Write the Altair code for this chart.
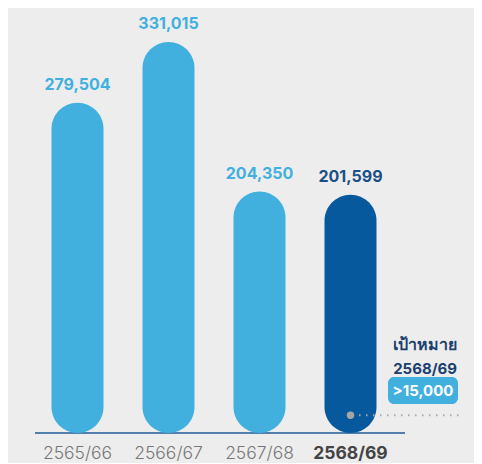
import altair as alt
import pandas as pd

years = ["2565/66", "2566/67", "2567/68", "2568/69"]
values = [279504, 331015, 204350, 201599]
labels = ["279,504", "331,015", "204,350", "201,599"]
bar_colors = ["#41B0DF", "#41B0DF", "#41B0DF", "#07599E"]
label_colors = ["#41B0DF", "#41B0DF", "#41B0DF", "#1B4F86"]
highlight = [0, 0, 0, 1]

target_year = "2568/69"
target_value = 15000
target_title = "เป้าหมาย"
target_label = ">15,000"

df = pd.DataFrame({
    "year": years, "value": values, "label": labels,
    "bar_color": bar_colors, "label_color": label_colors, "hl": highlight,
})
tdf = pd.DataFrame({"year": [target_year], "value": [target_value],
                    "title": [target_title], "label": [target_label]})

W, H = 466, 448
xs = alt.Scale(domain=years, range=[24, 388], paddingInner=0, paddingOuter=0)
ys = alt.Scale(domain=[0, 331015], range=[425, 34])
X = alt.X("year:N", scale=xs, axis=None)
Y = alt.Y("value:Q", scale=ys, axis=None)

base = alt.Chart(df)

bars = base.mark_bar(size=52, cornerRadius=26).encode(
    x=X, y=Y, y2=alt.datum(0), color=alt.Color("bar_color:N", scale=None))

vals = base.mark_text(baseline="bottom", dy=-10, font="Inter", fontSize=16,
                      fontWeight="bold").encode(
    x=X, y=Y, text="label:N", color=alt.Color("label_color:N", scale=None))

axis_line = alt.Chart(pd.DataFrame({"v": [0]})).mark_rule(
    color="#1E5A96", strokeWidth=1.5).encode(
    x=alt.value(27), x2=alt.value(397), y=alt.Y("v:Q", scale=ys, axis=None))

ylabels = base.transform_filter("datum.hl == 0").mark_text(
    baseline="alphabetic", font="Inter", fontSize=17.5, fontWeight=300,
    color="#777777").encode(x=X, y=alt.value(451), text="year:N")
ylabel_hl = base.transform_filter("datum.hl == 1").mark_text(
    baseline="alphabetic", font="Inter", fontSize=17.5, fontWeight="bold",
    color="#444444").encode(x=X, y=alt.value(451), text="year:N")

tb = alt.Chart(tdf)
dots = tb.mark_rule(color="#AAAAAA", strokeWidth=2, strokeDash=[1.5, 5.5]).encode(
    x=alt.value(351), x2=alt.value(453), y=Y)
dot = tb.mark_circle(size=55, color="#A6A6A6", opacity=1).encode(x=X, y=Y)
box = tb.mark_rect(color="#41B0DF", cornerRadius=6).encode(
    x=alt.value(380), x2=alt.value(450), y=alt.value(369), y2=alt.value(396))
box_text = tb.mark_text(font="Inter", fontSize=15, fontWeight="bold",
                        color="white").encode(
    x=alt.value(415), y=alt.value(383), text="label:N")
t_title = tb.mark_text(font="Noto Sans", fontSize=16, fontWeight="bold",
                       color="#1B3F6E", align="right", baseline="alphabetic").encode(
    x=alt.value(449), y=alt.value(342), text="title:N")
t_year = tb.mark_text(font="Inter", fontSize=15, fontWeight="bold",
                      color="#1B3F6E", align="right", baseline="alphabetic").encode(
    x=alt.value(449), y=alt.value(366), text="year:N")

chart = alt.layer(axis_line, bars, vals, ylabels, ylabel_hl, dots, dot, box,
                  box_text, t_title, t_year).properties(
    width=W, height=H, padding=0, background="#EDEDED"
).configure_view(stroke=None)

chart.save("out.html", embed_options={"renderer": "svg", "actions": False})
